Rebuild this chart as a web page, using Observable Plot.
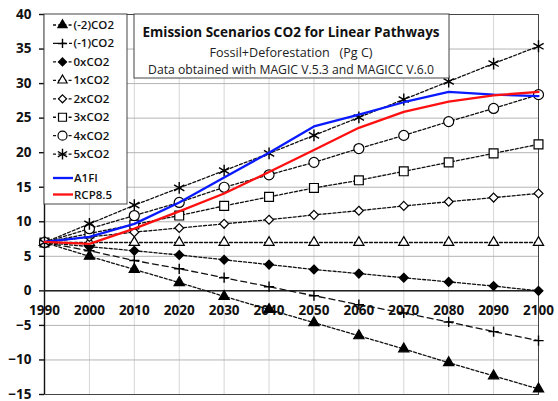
<!DOCTYPE html>
<html><head><meta charset="utf-8">
<script src="https://cdn.jsdelivr.net/npm/d3@7"></script>
<script src="https://cdn.jsdelivr.net/npm/@observablehq/plot@0.6"></script>
<style>
html,body{margin:0;padding:0;background:#fff;}
#chart{position:relative;width:558px;height:401px;}
</style>
</head><body><div id="chart"></div>
<script>
const years = [1990,2000,2010,2020,2030,2040,2050,2060,2070,2080,2090,2100];
const yTicks = [-15,-10,-5,0,5,10,15,20,25,30,35,40];
const seriesNames = ["(-2)CO2","(-1)CO2","0xCO2","1xCO2","2xCO2","3xCO2","4xCO2","5xCO2","A1FI","RCP8.5"];
const neg2CO2 = [7.0,5.0,3.1,1.2,-0.8,-2.7,-4.6,-6.5,-8.4,-10.4,-12.3,-14.2];
const neg1CO2 = [7.0,5.8,4.4,3.2,1.9,0.6,-0.7,-2.0,-3.2,-4.5,-5.9,-7.2];
const x0CO2 = [7.0,6.4,5.8,5.2,4.5,3.8,3.1,2.5,1.9,1.3,0.7,0.0];
const x1CO2 = [7.0,7.0,7.0,7.0,7.0,7.0,7.0,7.0,7.0,7.0,7.0,7.0];
const x2CO2 = [7.0,7.8,8.5,9.1,9.7,10.3,11.0,11.6,12.3,12.9,13.5,14.1];
const x3CO2 = [7.0,8.3,9.6,10.9,12.3,13.6,14.9,16.0,17.3,18.6,19.9,21.2];
const x4CO2 = [7.0,9.0,10.9,12.8,15.0,16.8,18.6,20.6,22.5,24.5,26.4,28.4];
const x5CO2 = [7.0,9.7,12.4,14.9,17.4,19.9,22.5,25.1,27.7,30.3,32.9,35.4];
const a1fi = [7.1,7.8,9.7,12.8,16.4,20.0,23.8,25.5,27.3,28.8,28.4,28.2];
const rcp85 = [7.1,6.8,9.0,11.5,14.1,17.2,20.4,23.6,25.9,27.4,28.3,28.8];

const dashedSeries = [neg2CO2,neg1CO2,x0CO2,x1CO2,x2CO2,x3CO2,x4CO2,x5CO2];
const symbols = ["triangle","plus","diamond2","triangle","diamond2","square","circle","asterisk"];
const filled = [true,false,true,false,false,false,false,false];
const dashes = ["3,2","6,4","3,2","3,2","3,2","3,2","3,2","3,2"];
const radius = {triangle:3.8, plus:3.4, diamond2:4.0, square:5.0, circle:5.0, asterisk:5.6};

const rows = s => years.map((year,i)=>({year, value:s[i]}));
const isStroke = s => s==="plus"||s==="asterisk";

const marks = [
  Plot.gridX(years, {stroke:"#d6d6d6", strokeOpacity:1}),
  Plot.gridY(yTicks, {stroke:"#b4b4b4", strokeOpacity:1}),
  Plot.frame({stroke:"#444"}),
  Plot.ruleX([1990], {stroke:"#111", strokeWidth:1.4}),
  Plot.ruleY([0], {stroke:"#222", strokeWidth:1.5}),
  Plot.axisY(yTicks, {tickSize:5, tickPadding:8, fontSize:13.5, fontWeight:"bold", label:null, fill:"#111", stroke:"#111", strokeWidth:1.4}),
  Plot.text(years, {x:d=>d, y:0, dy:20, text:d=>String(d), fontSize:13.5, fontWeight:"bold", fill:"#111"})
];
dashedSeries.forEach((s,k)=>{
  marks.push(Plot.line(rows(s), {x:"year", y:"value", stroke:"#111", strokeWidth:1.3, strokeDasharray:dashes[k]}));
});
dashedSeries.forEach((s,k)=>{
  const sym = symbols[k];
  marks.push(Plot.dot(rows(s), {x:"year", y:"value", symbol:()=>sym, r: radius[sym],
    fill: filled[k] ? "#000" : (isStroke(sym) ? "none" : "#fff"),
    stroke:"#000", strokeWidth: isStroke(sym) ? 1.4 : 1.2}));
});
marks.push(Plot.line(rows(a1fi), {x:"year", y:"value", stroke:"#0a1aff", strokeWidth:2.3}));
marks.push(Plot.line(rows(rcp85), {x:"year", y:"value", stroke:"#ff1010", strokeWidth:2.3}));

const chart = Plot.plot({
  width:558, height:401,
  marginLeft:44, marginRight:20, marginTop:14, marginBottom:7,
  x:{domain:[1990,2100], axis:null},
  y:{domain:[-15,40], axis:null},
  style:{fontFamily:"'Open Sans', sans-serif", background:"#fff", overflow:"visible"},
  marks
});
document.getElementById("chart").appendChild(chart);

const svg = d3.select(chart);
const font = "'Open Sans', sans-serif";
// Title box
const tb = svg.append("g").attr("text-anchor","middle");
tb.append("rect").attr("x",134).attr("y",14).attr("width",315).attr("height",64).attr("fill","#fff").attr("stroke","#444").attr("stroke-width",1);
tb.append("text").attr("x",291).attr("y",37).attr("font-family",font).attr("font-weight","bold").attr("font-size",13.5).attr("fill","#111").text("Emission Scenarios CO2 for Linear Pathways");
tb.append("text").attr("x",291).attr("y",56.5).attr("font-family",font).attr("font-size",12.6).attr("fill","#222").style("white-space","pre").text("Fossil+Deforestation   (Pg C)");
tb.append("text").attr("x",291).attr("y",73.5).attr("font-family",font).attr("font-size",12.2).attr("fill","#222").text("Data obtained with MAGIC V.5.3 and MAGICC V.6.0");

// Legend
const lg = svg.append("g").attr("text-anchor","start");
lg.append("rect").attr("x",44).attr("y",14).attr("width",83).attr("height",190).attr("fill","#fff").attr("stroke","#444");
const symMap = {triangle:d3.symbolTriangle, plus:d3.symbolPlus, diamond2:d3.symbolDiamond2, square:d3.symbolSquare, circle:d3.symbolCircle, asterisk:d3.symbolAsterisk};
seriesNames.forEach((name,k)=>{
  const y = k<8 ? 25 + 18.45*k : (k===8 ? 178 : 194.5);
  if (k<8){
    const sym = symbols[k];
    lg.append("line").attr("x1",53).attr("x2",72).attr("y1",y).attr("y2",y).attr("stroke","#111").attr("stroke-width",1.3).attr("stroke-dasharray",dashes[k]==="6,4"?"5,3":"3,2.2");
    const rr = radius[sym]*0.9;
    lg.append("path").attr("transform",`translate(62.5,${y})`).attr("d", d3.symbol(symMap[sym], Math.PI*rr*rr)())
      .attr("fill", filled[k]?"#000":(isStroke(sym)?"none":"#fff")).attr("stroke","#000").attr("stroke-width",isStroke(sym)?1.4:1.2);
  } else {
    lg.append("line").attr("x1",53).attr("x2",73).attr("y1",y).attr("y2",y).attr("stroke",k===8?"#0a1aff":"#ff1010").attr("stroke-width",2.3);
  }
  lg.append("text").attr("x",k<8?73.5:74).attr("y",y).attr("dy","0.35em").attr("font-family",font).attr("font-size",11.5).attr("font-weight",600).attr("fill","#111").text(name);
});
</script>
</body></html>
